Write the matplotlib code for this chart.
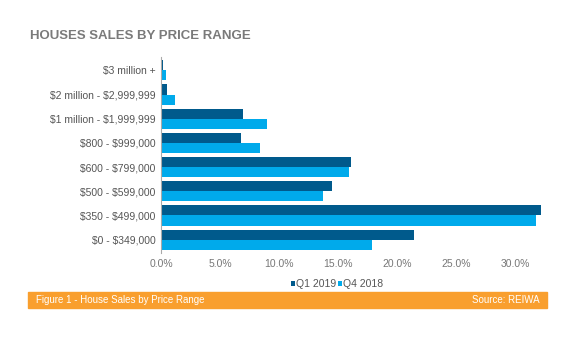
import matplotlib
matplotlib.use("Agg")
import matplotlib.pyplot as plt
import numpy as np

plt.rcParams['font.family'] = ['Liberation Sans', 'DejaVu Sans']
plt.rcParams['text.parse_math'] = False

# data (percent of sales)
categories = ['$0 - $349,000', '$350 - $499,000', '$500 - $599,000', '$600 - $799,000',
              '$800 - $999,000', '$1 million - $1,999,999', '$2 million - $2,999,999', '$3 million +']
q1_2019 = [21.4, 32.2, 14.5, 16.1, 6.8, 6.9, 0.5, 0.15]
q4_2018 = [17.9, 31.7, 13.7, 15.9, 8.4, 9.0, 1.2, 0.4]
xticks = [0, 5, 10, 15, 20, 25, 30]

fig = plt.figure(figsize=(5.8, 3.52), dpi=100)
ax = fig.add_axes([161 / 580, 1 - 253 / 352, (545 - 161) / 580, (253 - 57) / 352])

y = np.arange(len(categories))
h = 0.42
ax.barh(y + h / 2, q1_2019, height=h, color='#005a8c', label='Q1 2019')
ax.barh(y - h / 2, q4_2018, height=h, color='#00aaeb', label='Q4 2018')

ax.set_yticks(y)
ax.set_yticklabels(categories, fontsize=7.5, color='#555555')
ax.set_ylim(-0.55, len(categories) - 0.45)
ax.set_xlim(0, 32.5)
ax.set_xticks(xticks)
ax.set_xticklabels(['%.1f%%' % v for v in xticks], fontsize=7.5, color='#777777')
ax.tick_params(length=0, pad=4)
for s in ['top', 'right', 'bottom']:
    ax.spines[s].set_visible(False)
ax.spines['left'].set_color('#aaaaaa')

fig.legend(loc='center', bbox_to_anchor=(337 / 580, 1 - 284 / 352), ncol=2, frameon=False,
           fontsize=7.5, handlelength=0.4, handleheight=0.4, handletextpad=0.1,
           columnspacing=0.2, labelcolor='#555555')

fig.text(30 / 580, 1 - 36 / 352, 'HOUSES SALES BY PRICE RANGE', fontsize=9.5,
         fontweight='bold', color='#7a7a7a', va='center')

# orange footer band
fig.patches.append(plt.Rectangle((28 / 580, 1 - 308 / 352), (547 - 28) / 580, 16 / 352,
                                 transform=fig.transFigure, color='#f99f2e', zorder=0))
fig.text(36 / 580, 1 - 300 / 352, 'Figure 1 - House Sales by Price Range', fontsize=7,
         color='white', va='center')
fig.text(540 / 580, 1 - 300 / 352, 'Source: REIWA', fontsize=7,
         color='white', va='center', ha='right')

fig.savefig('out.png', dpi=100)
